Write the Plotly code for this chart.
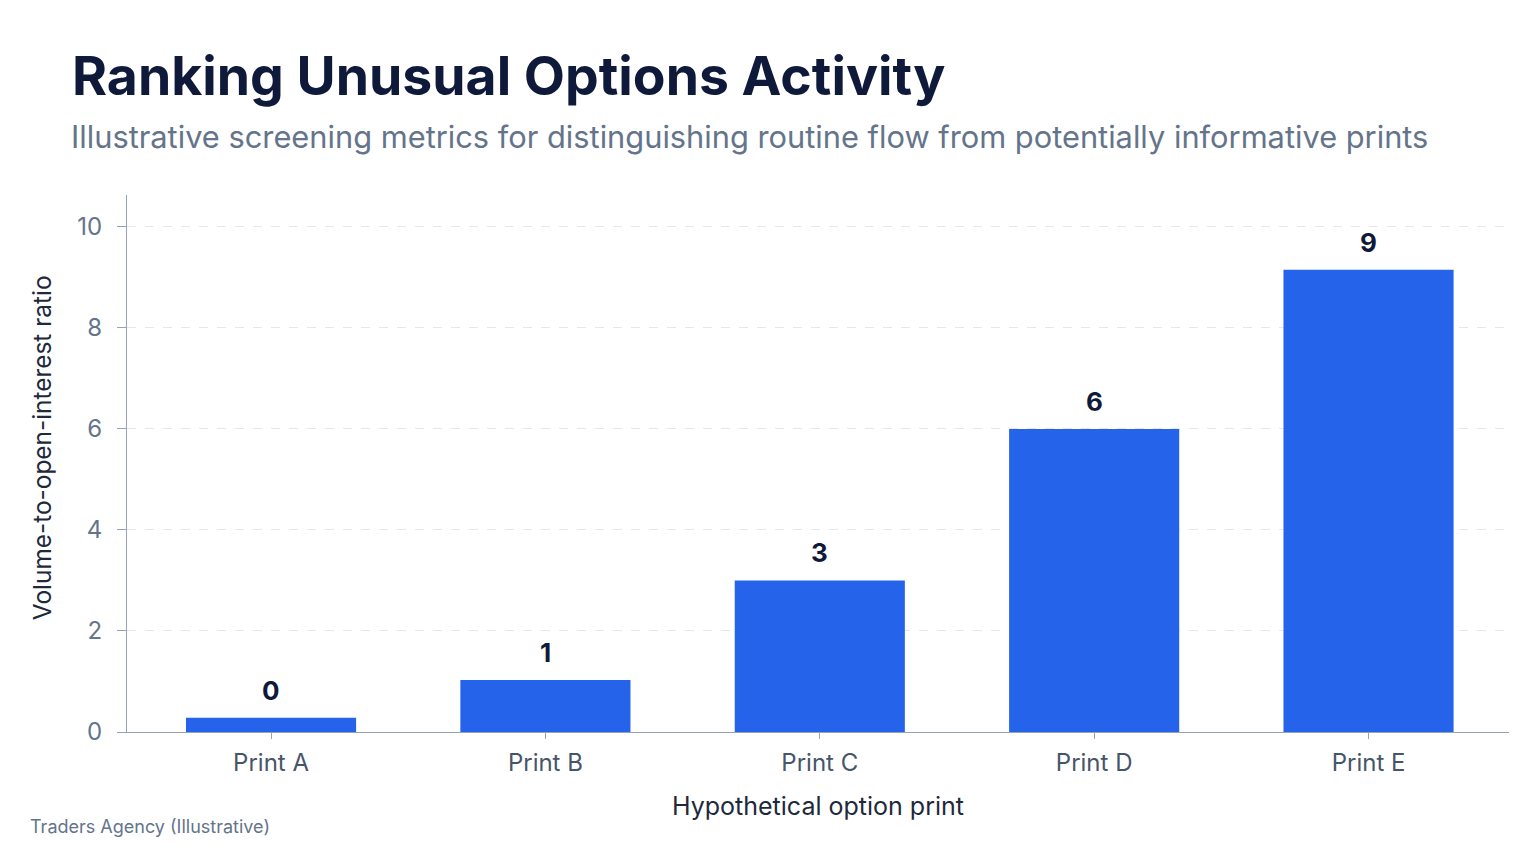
import plotly.graph_objects as go

# valores
prints = ["Print A", "Print B", "Print C", "Print D", "Print E"]
ratio_vol_oi = [0.28, 1.03, 3.0, 6.0, 9.15]
etiquetas = ["0", "1", "3", "6", "9"]
ticks_y = [0, 2, 4, 6, 8, 10]

AZUL = "#2563EB"
NAVY = "#0F1A3A"
GRIS = "#64748B"

# la pagina deja 8px de margen en el body, se compensa aqui
OFF = 8

fig = go.Figure()

fig.add_trace(go.Bar(
    x=prints,
    y=ratio_vol_oi,
    marker=dict(color=AZUL, line=dict(width=0)),
    hoverinfo="skip",
))

# etiquetas sobre cada barra
for p, v, t in zip(prints, ratio_vol_oi, etiquetas):
    fig.add_annotation(
        x=p, y=v, text=f"<b>{t}</b>",
        xref="x", yref="y",
        yanchor="bottom", yshift=10,
        showarrow=False,
        font=dict(family="Inter", size=26, color=NAVY),
    )

fig.update_layout(
    width=1536,
    height=864,
    paper_bgcolor="white",
    plot_bgcolor="white",
    showlegend=False,
    bargap=0.38,
    margin=dict(l=119, r=35, t=187, b=140),
    font=dict(family="Inter", color=GRIS),
    title=dict(
        text="<b>Ranking Unusual Options Activity</b>",
        font=dict(family="Inter", size=53.5, color=NAVY),
        xref="container", yref="container",
        x=(72 - OFF) / 1536, xanchor="left",
        y=1 - (76 - OFF) / 864, yanchor="middle",
    ),
)

fig.add_annotation(
    text="Illustrative screening metrics for distinguishing routine flow from potentially informative prints",
    xref="paper", yref="paper",
    x=(69 - 127) / 1382, y=(731.7 - 137) / 536.7,
    xanchor="left", yanchor="middle",
    showarrow=False,
    font=dict(family="Inter", size=30.8, color=GRIS),
)

fig.add_annotation(
    text="Traders Agency (Illustrative)",
    xref="paper", yref="paper",
    x=(28 - 127) / 1382, y=(731.7 - 826) / 536.7,
    xanchor="left", yanchor="middle",
    showarrow=False,
    font=dict(family="Inter", size=18, color=GRIS),
)

# titulo del eje y como anotacion (va algo por encima del centro)
fig.add_annotation(
    text="Volume-to-open-interest ratio",
    xref="paper", yref="paper",
    x=(42 - 127) / 1382, y=(731.7 - 448) / 536.7,
    xanchor="center", yanchor="middle",
    textangle=-90,
    showarrow=False,
    font=dict(family="Inter", size=24.4, color="#1E293B"),
)

fig.update_xaxes(
    title=dict(text="Hypothetical option print", font=dict(size=25, color="#1E293B"), standoff=21),
    range=[-0.525, 4.512],
    tickfont=dict(size=24, color="#475569"),
    ticklabelstandoff=3,
    showline=True, linecolor="#94A3B8", linewidth=1,
    ticks="outside", ticklen=6, tickcolor="#94A3B8",
    showgrid=False,
)

fig.update_yaxes(
    range=[0, 10.63],
    tickvals=ticks_y,
    tickfont=dict(size=24, color=GRIS),
    ticklabelstandoff=10,
    showline=True, linecolor="#94A3B8", linewidth=1,
    ticks="outside", ticklen=9, tickcolor="#94A3B8",
    showgrid=True, gridcolor="#E2E8F0", griddash="dash", gridwidth=1,
    zeroline=False,
)

fig.write_html("out.html")
